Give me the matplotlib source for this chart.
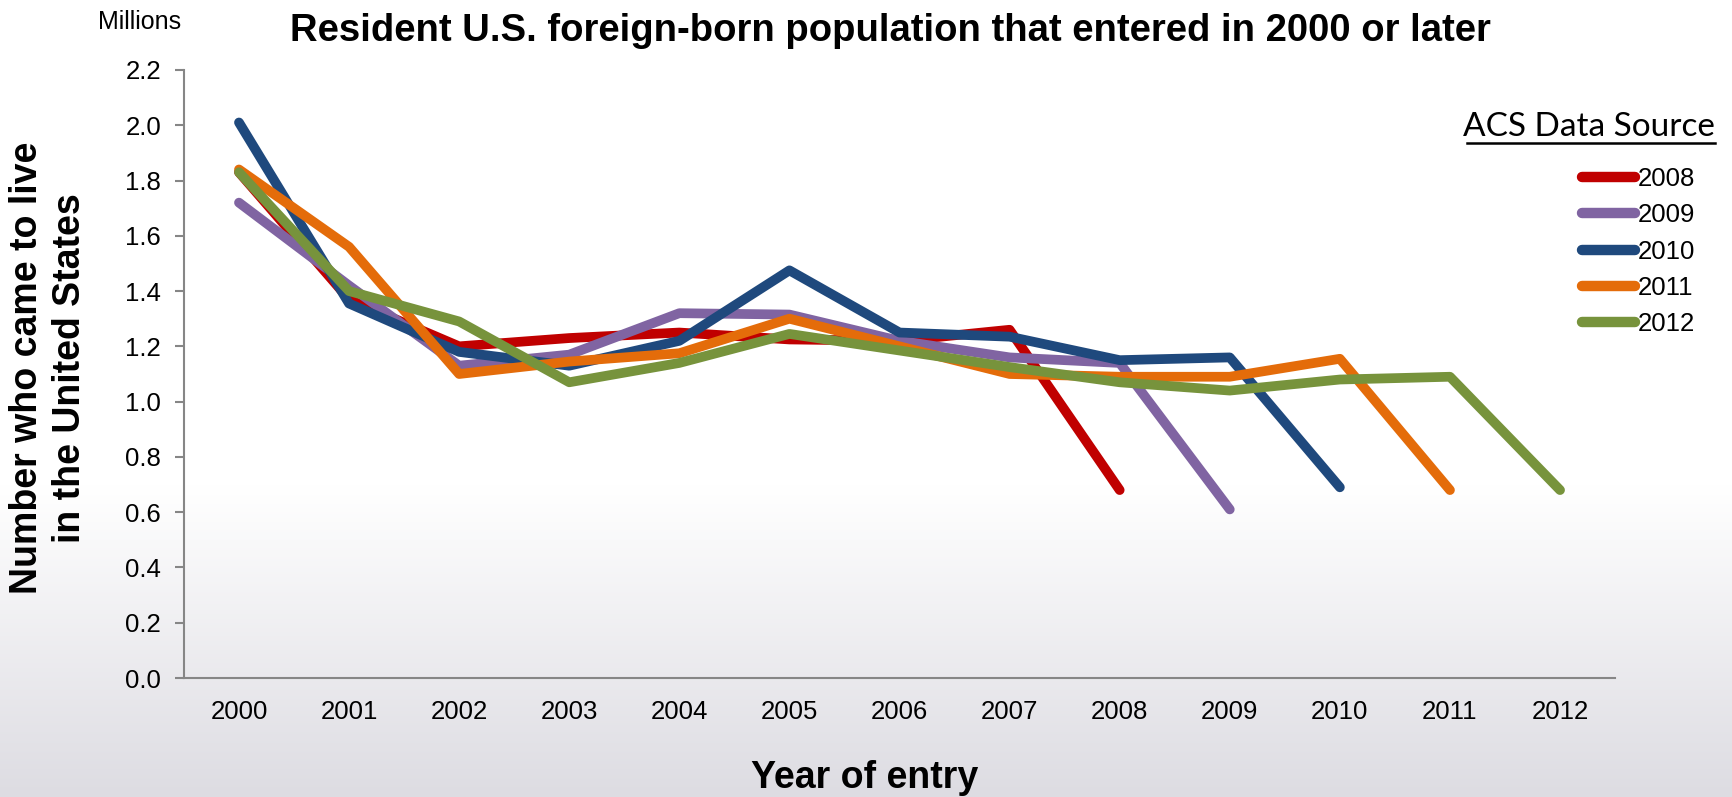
import matplotlib
matplotlib.use('Agg')
import matplotlib.pyplot as plt
from matplotlib.lines import Line2D
import numpy as np

plt.rcParams['font.family'] = ['Liberation Sans', 'DejaVu Sans']

# Year of entry (x categories)
entry_years = ['2000', '2001', '2002', '2003', '2004', '2005', '2006',
               '2007', '2008', '2009', '2010', '2011', '2012']

# ACS data source years (one line each), values in millions
acs_2008 = [1.83, 1.37, 1.20, 1.23, 1.25, 1.225, 1.22, 1.26, 0.68]
acs_2009 = [1.72, 1.42, 1.13, 1.17, 1.32, 1.315, 1.22, 1.16, 1.14, 0.61]
acs_2010 = [2.01, 1.355, 1.18, 1.13, 1.22, 1.475, 1.25, 1.235, 1.15, 1.16, 0.69]
acs_2011 = [1.84, 1.56, 1.10, 1.145, 1.175, 1.30, 1.20, 1.10, 1.09, 1.09, 1.155, 0.68]
acs_2012 = [1.83, 1.40, 1.29, 1.07, 1.14, 1.245, 1.185, 1.125, 1.07, 1.04, 1.08, 1.09, 0.68]

series_labels = ['2008', '2009', '2010', '2011', '2012']
series_values = [acs_2008, acs_2009, acs_2010, acs_2011, acs_2012]
series_colors = ['#C00000', '#8064A2', '#1F497D', '#E46C0A', '#77933C']

y_ticks = [0.0, 0.2, 0.4, 0.6, 0.8, 1.0, 1.2, 1.4, 1.6, 1.8, 2.0, 2.2]

fig = plt.figure(figsize=(17.32, 7.97), dpi=100)

# background: white on top, light grey-lilac gradient towards the bottom
bg = fig.add_axes([0, 0, 1, 1], zorder=-10)
h = 400
t = np.linspace(0, 1, h)  # 0 = bottom, 1 = top
fade = np.clip((0.39 - t) / 0.39, 0, 1)
top_col = np.array([1.0, 1.0, 1.0])
bot_col = np.array([221, 220, 226]) / 255.0
grad = top_col[None, :] * (1 - fade[:, None]) + bot_col[None, :] * fade[:, None]
grad = np.repeat(grad[:, None, :], 2, axis=1)
bg.imshow(grad, aspect='auto', extent=[0, 1, 0, 1], origin='lower')
bg.axis('off')

ax = fig.add_axes([0.1062, 0.1493, 0.8263, 0.7629])
ax.set_facecolor('none')

x = np.arange(len(entry_years))
for label, vals, col in zip(series_labels, series_values, series_colors):
    ax.plot(x[:len(vals)], vals, color=col, linewidth=7, label=label,
            solid_capstyle='round', solid_joinstyle='round')

ax.set_xlim(-0.5, len(entry_years) - 0.5)
ax.set_ylim(0, 2.2)
ax.set_xticks(x)
ax.set_xticklabels(entry_years)
ax.set_yticks(y_ticks)
ax.set_yticklabels([f'{v:.1f}' for v in y_ticks])

for side in ['top', 'right']:
    ax.spines[side].set_visible(False)
for side in ['left', 'bottom']:
    ax.spines[side].set_color('#868686')
    ax.spines[side].set_linewidth(1.5)

ax.tick_params(axis='y', length=6.5, width=1.5, color='#868686', pad=10,
               labelsize=18.5)
ax.tick_params(axis='x', length=0, pad=16, labelsize=18.5)

# texts
fig.text(0.514, 0.961, 'Resident U.S. foreign-born population that entered in 2000 or later',
         ha='center', va='center', fontsize=27.5, fontweight='bold')
fig.text(0.0808, 0.972, 'Millions', ha='center', va='center', fontsize=18)
fig.text(0.0278, 0.538, 'Number who came to live\nin the United States',
         ha='center', va='center', rotation=90, fontsize=27, fontweight='bold',
         multialignment='center', linespacing=1.25)
fig.text(0.499, 0.024, 'Year of entry', ha='center', va='center',
         fontsize=27, fontweight='bold')

# legend title, underlined
fig.text(1715 / 1732, 1 - 127 / 797, 'ACS Data Source', ha='right', va='center',
         fontsize=24, family=['Lato', 'DejaVu Sans'])
fig.add_artist(Line2D([1467 / 1732, 1715 / 1732], [1 - 143 / 797, 1 - 143 / 797],
                      color='black', linewidth=1.8, transform=fig.transFigure))

leg = fig.legend(loc='upper left', bbox_to_anchor=(1582 / 1732, 1 - 167 / 797),
                 frameon=False, fontsize=18.5, handlelength=2.05,
                 handletextpad=0.12, labelspacing=0.48, borderpad=0,
                 borderaxespad=0)
for line in leg.get_lines():
    line.set_linewidth(7.5)
    line.set_solid_capstyle('round')

fig.savefig('out.png', dpi=100)
plt.close(fig)
